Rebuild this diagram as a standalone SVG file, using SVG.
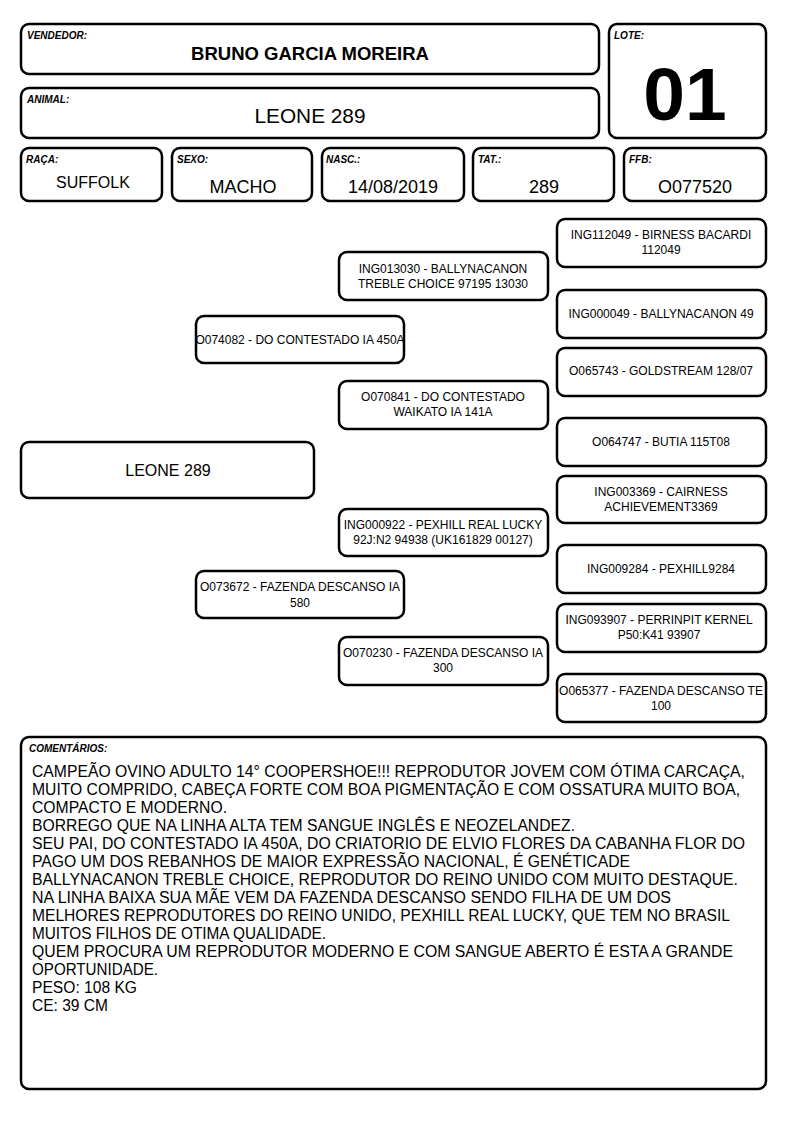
<svg xmlns="http://www.w3.org/2000/svg" width="794" height="1123" viewBox="0 0 794 1123">
<style>
rect.b{fill:#fff;stroke:#000;stroke-width:2.5}
text{font-family:"Liberation Sans",Arial,sans-serif;fill:#000}
.lbl{font-size:10px;font-weight:bold;font-style:italic}
.val{font-size:18px;text-anchor:middle}
.p{font-size:12px;text-anchor:middle}
.c{font-size:16px}
</style>
<rect width="794" height="1123" fill="#fff"/>
<g id="vendedor"><rect class="b" x="21" y="24" width="578" height="50" rx="8"/><text class="lbl" x="27" y="39">VENDEDOR:</text><text x="310" y="60" font-size="18.5" font-weight="bold" text-anchor="middle">BRUNO GARCIA MOREIRA</text></g>
<g id="animal"><rect class="b" x="21" y="88" width="578" height="50" rx="8"/><text class="lbl" x="27" y="103">ANIMAL:</text><text x="310" y="123" font-size="20.8" text-anchor="middle">LEONE 289</text></g>
<g id="lote"><rect class="b" x="609" y="24" width="157" height="114" rx="8"/><text class="lbl" x="614" y="39">LOTE:</text><text x="685" y="120" font-size="75" font-weight="bold" text-anchor="middle">01</text></g>
<g id="raca"><rect class="b" x="21" y="148" width="141" height="53" rx="8"/><text class="lbl" x="26" y="163">RAÇA:</text><text x="93" y="188" font-size="16" text-anchor="middle">SUFFOLK</text></g>
<g id="sexo"><rect class="b" x="172" y="148" width="140" height="53" rx="8"/><text class="lbl" x="177" y="163">SEXO:</text><text class="val" x="243" y="193">MACHO</text></g>
<g id="nasc"><rect class="b" x="322" y="148" width="142" height="53" rx="8"/><text class="lbl" x="326" y="163">NASC.:</text><text class="val" x="393" y="193">14/08/2019</text></g>
<g id="tat"><rect class="b" x="473" y="148" width="141" height="53" rx="8"/><text class="lbl" x="478" y="163">TAT.:</text><text class="val" x="544" y="193">289</text></g>
<g id="ffb"><rect class="b" x="624" y="148" width="142" height="53" rx="8"/><text class="lbl" x="629" y="163">FFB:</text><text class="val" x="695" y="193">O077520</text></g>

<g id="n-leone"><rect class="b" x="21" y="442" width="293" height="56" rx="8"/><text x="168" y="476" font-size="16" text-anchor="middle">LEONE 289</text></g>
<g id="n-o074082"><rect class="b" x="196" y="316" width="208" height="47" rx="8"/><text class="p" x="300" y="344">O074082 - DO CONTESTADO IA 450A</text></g>
<g id="n-o073672"><rect class="b" x="196" y="571" width="208" height="47" rx="8"/><text class="p" x="300" y="591">O073672 - FAZENDA DESCANSO IA</text><text class="p" x="300" y="607">580</text></g>
<g id="n-ing013030"><rect class="b" x="339" y="252" width="209" height="48" rx="8"/><text class="p" x="443" y="273">ING013030 - BALLYNACANON</text><text class="p" x="443" y="288">TREBLE CHOICE 97195 13030</text></g>
<g id="n-o070841"><rect class="b" x="339" y="381" width="209" height="48" rx="8"/><text class="p" x="443" y="401">O070841 - DO CONTESTADO</text><text class="p" x="443" y="416">WAIKATO IA 141A</text></g>
<g id="n-ing000922"><rect class="b" x="339" y="509" width="209" height="47" rx="8"/><text class="p" x="443" y="529">ING000922 - PEXHILL REAL LUCKY</text><text class="p" x="443" y="544">92J:N2 94938 (UK161829 00127)</text></g>
<g id="n-o070230"><rect class="b" x="339" y="637" width="209" height="48" rx="8"/><text class="p" x="443" y="657">O070230 - FAZENDA DESCANSO IA</text><text class="p" x="443" y="672">300</text></g>
<g id="n-ing112049"><rect class="b" x="557" y="219" width="209" height="48" rx="8"/><text class="p" x="661" y="239">ING112049 - BIRNESS BACARDI</text><text class="p" x="661" y="254">112049</text></g>
<g id="n-ing000049"><rect class="b" x="557" y="290" width="209" height="48" rx="8"/><text class="p" x="661" y="318">ING000049 - BALLYNACANON 49</text></g>
<g id="n-o065743"><rect class="b" x="557" y="348" width="209" height="48" rx="8"/><text class="p" x="661" y="375">O065743 - GOLDSTREAM 128/07</text></g>
<g id="n-o064747"><rect class="b" x="557" y="418" width="209" height="48" rx="8"/><text class="p" x="661" y="446">O064747 - BUTIA 115T08</text></g>
<g id="n-ing003369"><rect class="b" x="557" y="476" width="209" height="47" rx="8"/><text class="p" x="661" y="496">ING003369 - CAIRNESS</text><text class="p" x="661" y="511">ACHIEVEMENT3369</text></g>
<g id="n-ing009284"><rect class="b" x="557" y="545" width="209" height="48" rx="8"/><text class="p" x="661" y="573">ING009284 - PEXHILL9284</text></g>
<g id="n-ing093907"><rect class="b" x="557" y="604" width="209" height="48" rx="8"/><text class="p" x="659" y="624">ING093907 - PERRINPIT KERNEL</text><text class="p" x="659" y="639">P50:K41 93907</text></g>
<g id="n-o065377"><rect class="b" x="557" y="674" width="209" height="48" rx="8"/><text class="p" x="661" y="695">O065377 - FAZENDA DESCANSO TE</text><text class="p" x="661" y="710">100</text></g>
<g id="connectors"></g>

<g id="comentarios"><rect class="b" x="21" y="737" width="745" height="352" rx="8"/><text class="lbl" x="29" y="752">COMENTÁRIOS:</text>
<text class="c" x="32" y="777" textLength="713" lengthAdjust="spacingAndGlyphs">CAMPEÃO OVINO ADULTO 14° COOPERSHOE!!! REPRODUTOR JOVEM COM ÓTIMA CARCAÇA,</text>
<text class="c" x="32" y="795" textLength="708" lengthAdjust="spacingAndGlyphs">MUITO COMPRIDO, CABEÇA FORTE COM BOA PIGMENTAÇÃO E COM OSSATURA MUITO BOA,</text>
<text class="c" x="32" y="813" textLength="195" lengthAdjust="spacingAndGlyphs">COMPACTO E MODERNO.</text>
<text class="c" x="32" y="831" textLength="543" lengthAdjust="spacingAndGlyphs">BORREGO QUE NA LINHA ALTA TEM SANGUE INGLÊS E NEOZELANDEZ.</text>
<text class="c" x="32" y="849" textLength="713" lengthAdjust="spacingAndGlyphs">SEU PAI, DO CONTESTADO IA 450A, DO CRIATORIO DE ELVIO FLORES DA CABANHA FLOR DO</text>
<text class="c" x="32" y="867" textLength="598" lengthAdjust="spacingAndGlyphs">PAGO UM DOS REBANHOS DE MAIOR EXPRESSÃO NACIONAL, É GENÉTICADE</text>
<text class="c" x="32" y="885" textLength="706" lengthAdjust="spacingAndGlyphs">BALLYNACANON TREBLE CHOICE, REPRODUTOR DO REINO UNIDO COM MUITO DESTAQUE.</text>
<text class="c" x="32" y="903" textLength="639" lengthAdjust="spacingAndGlyphs">NA LINHA BAIXA SUA MÃE VEM DA FAZENDA DESCANSO SENDO FILHA DE UM DOS</text>
<text class="c" x="32" y="921" textLength="698" lengthAdjust="spacingAndGlyphs">MELHORES REPRODUTORES DO REINO UNIDO, PEXHILL REAL LUCKY, QUE TEM NO BRASIL</text>
<text class="c" x="32" y="939" textLength="294" lengthAdjust="spacingAndGlyphs">MUITOS FILHOS DE OTIMA QUALIDADE.</text>
<text class="c" x="32" y="957" textLength="701" lengthAdjust="spacingAndGlyphs">QUEM PROCURA UM REPRODUTOR MODERNO E COM SANGUE ABERTO É ESTA A GRANDE</text>
<text class="c" x="32" y="975" textLength="126" lengthAdjust="spacingAndGlyphs">OPORTUNIDADE.</text>
<text class="c" x="32" y="993" textLength="105" lengthAdjust="spacingAndGlyphs">PESO: 108 KG</text>
<text class="c" x="32" y="1011" textLength="76" lengthAdjust="spacingAndGlyphs">CE: 39 CM</text>
</g>
</svg>
